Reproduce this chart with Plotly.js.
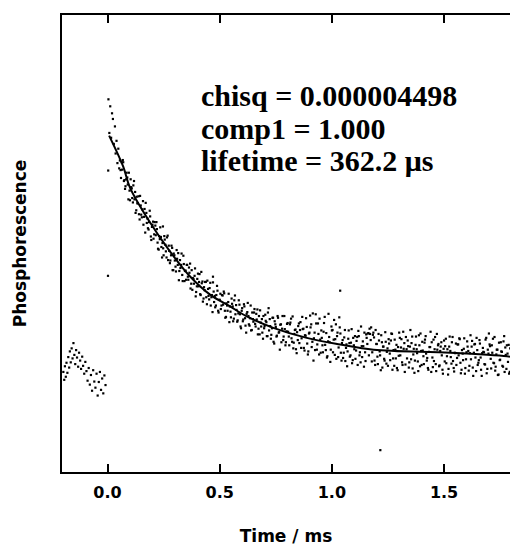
<!DOCTYPE html>
<html>
<head>
<meta charset="utf-8">
<script src="https://cdn.plot.ly/plotly-3.0.1.min.js"></script>
<style>html,body{margin:0;padding:0;background:#fff;}#chart{width:510px;height:546px;}</style>
</head>
<body>
<div id="chart"></div>
<script>
// ---- data (time in ms, phosphorescence in arbitrary units) ----
var tickVals = [0, 0.5, 1.0, 1.5];
var tickText = ["0.0", "0.5", "1.0", "1.5"];
var fitLabels = ["chisq = 0.000004498", "comp1 = 1.000", "lifetime = 362.2 \u03bcs"];

// pre-trigger baseline points
var tPre = [-0.197,-0.193,-0.190,-0.186,-0.183,-0.179,-0.175,-0.171,-0.168,-0.164,-0.160,-0.156,-0.152,-0.148,-0.144,-0.140,-0.136,-0.131,-0.127,-0.122,-0.118,-0.113,-0.109,-0.104,-0.099,-0.094,-0.089,-0.084,-0.079,-0.074,-0.069,-0.064,-0.059,-0.054,-0.049,-0.044,-0.039,-0.034,-0.029,-0.024,-0.019,-0.014,-0.009];
var yPre = [18.2,16.4,19.5,17.1,20.3,18.0,21.6,19.2,22.9,20.4,23.6,21.3,24.8,22.1,20.0,23.2,21.5,19.4,22.6,20.8,18.9,21.7,19.6,17.8,20.5,18.4,16.2,19.1,15.3,17.5,13.9,18.6,16.0,14.6,17.8,12.8,15.9,18.2,14.1,16.7,13.3,17.4,15.2];

// first points after the flash and isolated outliers
var tExtra = [0.002,0.003,0.004,0.008,0.012,0.016,0.020,0.024,0.028,0.033,0.036,0.040,0.044,0.048,0.052,0.247,0.470,1.037,1.216];
var yExtra = [40.2,64.3,80.6,72.9,79.0,71.8,77.4,76.1,70.4,74.4,68.2,71.1,66.0,69.3,64.8,51.5,40.0,36.8,0.3];

// decay points, first sweep
var tDecay = [
0.055,0.060,0.065,0.070,0.075,0.080,0.085,0.090,0.095,0.100,
0.105,0.110,0.115,0.120,0.125,0.130,0.135,0.140,0.145,0.150,
0.155,0.160,0.165,0.170,0.175,0.180,0.185,0.190,0.195,0.200,
0.205,0.210,0.215,0.220,0.225,0.230,0.235,0.240,0.245,0.250,
0.255,0.260,0.265,0.270,0.275,0.280,0.285,0.290,0.295,0.300,
0.305,0.310,0.315,0.320,0.325,0.330,0.335,0.340,0.345,0.350,
0.355,0.360,0.365,0.370,0.375,0.380,0.385,0.390,0.395,0.400,
0.405,0.410,0.415,0.420,0.425,0.430,0.435,0.440,0.445,0.450,
0.455,0.460,0.465,0.470,0.475,0.480,0.485,0.490,0.495,0.500,
0.505,0.510,0.515,0.520,0.525,0.530,0.535,0.540,0.545,0.550,
0.555,0.560,0.565,0.570,0.575,0.580,0.585,0.590,0.595,0.600,
0.605,0.610,0.615,0.620,0.625,0.630,0.635,0.640,0.645,0.650,
0.655,0.660,0.665,0.670,0.675,0.680,0.685,0.690,0.695,0.700,
0.705,0.710,0.715,0.720,0.725,0.730,0.735,0.740,0.745,0.750,
0.755,0.760,0.765,0.770,0.775,0.780,0.785,0.790,0.795,0.800,
0.805,0.810,0.815,0.820,0.825,0.830,0.835,0.840,0.845,0.850,
0.855,0.860,0.865,0.870,0.875,0.880,0.885,0.890,0.895,0.900,
0.905,0.910,0.915,0.920,0.925,0.930,0.935,0.940,0.945,0.950,
0.955,0.960,0.965,0.970,0.975,0.980,0.985,0.990,0.995,1.000,
1.005,1.010,1.015,1.020,1.025,1.030,1.035,1.040,1.045,1.050,
1.055,1.060,1.065,1.070,1.075,1.080,1.085,1.090,1.095,1.100,
1.105,1.110,1.115,1.120,1.125,1.130,1.135,1.140,1.145,1.150,
1.155,1.160,1.165,1.170,1.175,1.180,1.185,1.190,1.195,1.200,
1.205,1.210,1.215,1.220,1.225,1.230,1.235,1.240,1.245,1.250,
1.255,1.260,1.265,1.270,1.275,1.280,1.285,1.290,1.295,1.300,
1.305,1.310,1.315,1.320,1.325,1.330,1.335,1.340,1.345,1.350,
1.355,1.360,1.365,1.370,1.375,1.380,1.385,1.390,1.395,1.400,
1.405,1.410,1.415,1.420,1.425,1.430,1.435,1.440,1.445,1.450,
1.455,1.460,1.465,1.470,1.475,1.480,1.485,1.490,1.495,1.500,
1.505,1.510,1.515,1.520,1.525,1.530,1.535,1.540,1.545,1.550,
1.555,1.560,1.565,1.570,1.575,1.580,1.585,1.590,1.595,1.600,
1.605,1.610,1.615,1.620,1.625,1.630,1.635,1.640,1.645,1.650,
1.655,1.660,1.665,1.670,1.675,1.680,1.685,1.690,1.695,1.700,
1.705,1.710,1.715,1.720,1.725,1.730,1.735,1.740,1.745,1.750,
1.755,1.760,1.765,1.770,1.775,1.780,1.785,1.790,1.795];
var yDecay = [
66.6,62.6,64.5,66.2,62.1,60.7,63.8,61.1,63.8,57.5,
60.5,58.0,60.9,57.7,54.6,58.3,56.8,54.3,58.5,54.2,
55.4,51.9,55.5,56.9,52.3,51.1,52.5,53.8,48.4,51.9,
48.7,52.5,49.5,50.9,46.4,49.3,51.3,46.8,47.7,44.9,
48.5,45.8,49.0,43.8,45.9,43.7,47.1,41.5,45.3,43.7,
41.2,44.1,45.4,41.3,42.0,45.3,39.0,42.9,41.3,39.3,
42.7,39.3,40.9,37.3,41.5,39.7,38.4,41.9,36.5,39.5,
37.8,40.6,35.8,38.5,34.3,37.6,38.8,35.3,39.1,35.6,
37.4,33.4,35.8,38.7,34.2,33.0,35.8,36.8,31.8,34.7,
32.6,35.8,33.6,36.2,30.6,33.9,32.2,36.1,33.2,30.7,
33.8,29.8,34.6,31.4,32.4,30.0,34.6,31.4,28.2,32.8,
30.2,33.2,28.8,31.5,34.0,29.1,30.5,27.7,31.8,29.7,
32.6,28.6,30.2,26.8,31.0,32.3,28.6,27.2,31.0,28.7,
29.9,26.4,31.8,27.7,28.7,26.7,30.6,25.1,29.8,28.5,
26.5,30.6,27.3,29.0,25.0,31.0,26.3,28.0,25.0,29.2,
27.4,24.3,29.5,25.9,30.9,24.9,27.8,23.4,27.3,28.7,
24.8,29.6,25.9,28.0,23.7,26.6,30.5,24.7,22.9,27.2,
28.4,23.9,31.6,25.9,23.2,29.3,24.5,26.9,30.4,22.6,
26.0,22.7,29.4,24.4,27.1,21.8,31.5,25.0,23.3,27.7,
22.7,30.1,25.7,21.2,27.2,23.8,28.4,22.6,24.8,21.4,
26.1,20.7,24.5,22.9,27.7,21.7,24.9,20.2,26.0,23.4,
21.2,25.3,19.8,26.4,22.7,28.6,21.6,24.1,27.2,20.7,
26.0,27.0,22.0,26.9,28.4,22.7,27.2,20.8,27.8,24.6,
20.0,25.4,22.0,26.6,19.2,24.0,20.8,25.1,22.8,19.6,
24.7,20.9,27.0,18.7,23.2,25.6,21.3,19.1,23.9,27.2,
22.0,25.7,19.8,23.5,18.2,26.2,21.3,24.1,20.4,27.8,
24.8,19.0,23.5,20.8,26.3,22.5,18.4,24.3,27.0,19.8,
23.1,20.0,25.6,22.4,21.4,18.7,23.9,27.4,25.0,19.3,
20.7,26.2,18.4,23.3,24.6,19.7,24.0,22.0,17.8,25.4,
24.1,20.2,23.4,18.9,26.3,21.6,25.0,20.7,18.3,22.5,
19.8,24.5,22.0,25.7,17.9,23.2,20.9,25.9,19.1,22.7,
24.0,18.5,22.5,21.1,25.3,17.3,24.5,21.5,26.0,19.8,
20.9,24.7,18.7,22.5,22.8,20.0,25.6,17.9,23.3,27.0,
24.1,19.0,22.6,20.3,26.2,19.4,23.3,17.5,24.9,21.0,
22.9,19.6,25.2,18.2,22.1,24.3,20.5,17.8,23.6];

// decay points, interleaved second sweep
var tDecay2 = [
0.058,0.063,0.068,0.073,0.078,0.083,0.088,0.093,0.098,0.103,
0.108,0.113,0.118,0.123,0.128,0.133,0.138,0.143,0.148,0.153,
0.158,0.163,0.168,0.173,0.178,0.183,0.188,0.193,0.198,0.203,
0.208,0.213,0.218,0.223,0.228,0.233,0.238,0.243,0.248,0.253,
0.258,0.263,0.268,0.273,0.278,0.283,0.288,0.293,0.298,0.303,
0.308,0.313,0.318,0.323,0.328,0.333,0.338,0.343,0.348,0.353,
0.358,0.363,0.368,0.373,0.378,0.383,0.388,0.393,0.398,0.403,
0.408,0.413,0.418,0.423,0.428,0.433,0.438,0.443,0.448,0.453,
0.458,0.463,0.468,0.473,0.478,0.483,0.488,0.493,0.498,0.503,
0.508,0.513,0.518,0.523,0.528,0.533,0.538,0.543,0.548,0.553,
0.558,0.563,0.568,0.573,0.578,0.583,0.588,0.593,0.598,0.603,
0.608,0.613,0.618,0.623,0.628,0.633,0.638,0.643,0.648,0.653,
0.658,0.663,0.668,0.673,0.678,0.683,0.688,0.693,0.698,0.703,
0.708,0.713,0.718,0.723,0.728,0.733,0.738,0.743,0.748,0.753,
0.758,0.763,0.768,0.773,0.778,0.783,0.788,0.793,0.798,0.803,
0.808,0.813,0.818,0.823,0.828,0.833,0.838,0.843,0.848,0.853,
0.858,0.863,0.868,0.873,0.878,0.883,0.888,0.893,0.898,0.903,
0.908,0.913,0.918,0.923,0.928,0.933,0.938,0.943,0.948,0.953,
0.958,0.963,0.968,0.973,0.978,0.983,0.988,0.993,0.998,1.003,
1.008,1.013,1.018,1.023,1.028,1.033,1.038,1.043,1.048,1.053,
1.058,1.063,1.068,1.073,1.078,1.083,1.088,1.093,1.098,1.103,
1.108,1.113,1.118,1.123,1.128,1.133,1.138,1.143,1.148,1.153,
1.158,1.163,1.168,1.173,1.178,1.183,1.188,1.193,1.198,1.203,
1.208,1.213,1.218,1.223,1.228,1.233,1.238,1.243,1.248,1.253,
1.258,1.263,1.268,1.273,1.278,1.283,1.288,1.293,1.298,1.303,
1.308,1.313,1.318,1.323,1.328,1.333,1.338,1.343,1.348,1.353,
1.358,1.363,1.368,1.373,1.378,1.383,1.388,1.393,1.398,1.403,
1.408,1.413,1.418,1.423,1.428,1.433,1.438,1.443,1.448,1.453,
1.458,1.463,1.468,1.473,1.478,1.483,1.488,1.493,1.498,1.503,
1.508,1.513,1.518,1.523,1.528,1.533,1.538,1.543,1.548,1.553,
1.558,1.563,1.568,1.573,1.578,1.583,1.588,1.593,1.598,1.603,
1.608,1.613,1.618,1.623,1.628,1.633,1.638,1.643,1.648,1.653,
1.658,1.663,1.668,1.673,1.678,1.683,1.688,1.693,1.698,1.703,
1.708,1.713,1.718,1.723,1.728,1.733,1.738,1.743,1.748,1.753,
1.758,1.763,1.768,1.773,1.778,1.783,1.788,1.793];
var yDecay2 = [
64.4,66.2,66.7,61.9,60.1,62.3,62.7,57.7,59.7,62.3,
60.2,57.0,61.9,59.4,55.2,56.8,58.4,53.1,56.3,53.6,
57.3,53.7,50.1,54.6,53.3,50.8,55.1,49.2,51.4,52.6,
49.7,51.7,52.5,47.8,46.2,48.6,49.1,44.4,46.5,49.3,
47.3,44.4,49.4,47.1,43.1,44.9,46.6,41.5,44.9,42.3,
46.1,42.7,39.2,43.8,42.7,40.4,44.8,39.0,41.4,42.7,
40.0,42.1,43.0,38.4,37.0,39.5,40.2,35.5,37.8,40.7,
38.8,36.0,41.1,38.9,35.0,36.9,38.8,33.7,37.2,34.8,
38.6,35.3,31.9,36.6,35.6,33.4,37.9,32.2,34.7,36.1,
33.4,35.7,36.6,32.2,30.8,33.4,34.2,29.6,32.0,35.0,
33.2,30.4,35.7,33.5,29.7,31.6,33.6,28.6,32.2,29.8,
33.7,30.5,27.2,31.9,31.0,28.8,33.4,27.8,30.3,31.8,
29.2,31.5,32.5,28.1,26.8,29.5,30.3,25.8,28.2,31.3,
29.6,26.4,32.8,30.3,25.8,28.2,30.6,24.7,29.1,26.3,
31.0,27.2,23.3,29.1,28.1,25.5,31.0,24.3,27.5,29.4,
26.3,29.1,30.4,25.1,23.6,26.9,27.9,22.5,25.5,29.3,
27.8,23.7,30.8,28.1,23.1,26.5,28.5,22.2,27.0,31.1,
29.1,25.1,20.8,27.2,31.4,23.3,29.3,22.2,25.6,27.7,
24.3,27.4,30.8,23.2,21.5,25.2,26.2,20.5,28.6,27.8,
25.6,22.1,29.1,26.4,21.6,30.7,27.0,20.8,25.5,22.6,
27.8,23.7,19.5,25.8,24.8,22.0,28.0,20.9,24.3,26.4,
23.1,26.2,27.6,22.0,20.4,24.1,25.2,19.4,22.7,26.8,
24.6,27.1,28.1,25.5,20.6,26.7,26.1,19.8,24.6,21.7,
26.9,22.9,18.6,25.0,24.0,21.2,27.3,20.1,23.6,25.7,
22.4,25.4,26.9,21.3,19.6,23.3,24.4,18.6,21.9,26.0,
23.8,20.4,27.4,24.8,19.9,23.4,25.4,19.2,24.0,21.1,
26.3,22.2,18.0,24.4,23.4,20.6,26.6,19.5,23.0,25.1,
21.8,24.9,26.4,20.8,19.1,22.8,23.9,18.2,21.5,25.6,
23.4,20.0,26.9,24.3,19.5,23.0,25.0,18.7,23.5,20.6,
25.8,21.8,17.6,24.0,23.0,20.1,26.2,19.1,22.6,24.7,
21.4,24.5,25.9,20.3,18.7,22.4,23.5,17.8,21.1,25.2,
23.0,19.6,26.6,24.0,19.2,22.6,24.6,18.4,23.2,20.3,
25.5,21.5,17.3,23.7,22.7,19.9,26.0,18.9,22.4,24.5,
21.2,24.3,25.8,20.2,18.5,22.2,23.3,17.6,20.9,25.0,
22.8,19.4,26.4,23.8,18.9,22.4,24.4,18.2];

// single-exponential fit curve
var tFit = [0.007,0.070,0.100,0.181,0.278,0.367,0.457,0.546,0.621,0.739,0.888,1.037,1.186,1.528,1.781,1.794];
var yFit = [72.3,65.2,60.4,53.1,45.8,40.1,35.9,33.2,30.9,28.3,26.0,24.5,23.3,22.6,21.8,21.7];

// ---- chart ----
var tickFont = {family: "DejaVu Sans, Arial, sans-serif", size: 16, color: "#000", weight: 700};
var titleFont = {family: "DejaVu Sans, Arial, sans-serif", size: 17, color: "#000", weight: 700};
var dotStyle = {color: "#000", size: 2.2, symbol: "square"};

var traces = [
  {x: tPre, y: yPre, type: "scatter", mode: "markers", marker: dotStyle, hoverinfo: "skip"},
  {x: tExtra, y: yExtra, type: "scatter", mode: "markers", marker: dotStyle, hoverinfo: "skip"},
  {x: tDecay, y: yDecay, type: "scatter", mode: "markers", marker: dotStyle, hoverinfo: "skip"},
  {x: tDecay2, y: yDecay2, type: "scatter", mode: "markers", marker: dotStyle, hoverinfo: "skip"},
  {x: tFit, y: yFit, type: "scatter", mode: "lines", line: {color: "#000", width: 2, shape: "spline", smoothing: 1}, hoverinfo: "skip"}
];

var annY = [0.824, 0.752, 0.682];
var annotations = fitLabels.map(function (s, i) {
  return {text: s, xref: "paper", yref: "paper", x: 0.305, y: annY[i], xanchor: "left", yanchor: "middle",
          showarrow: false, font: {family: "Liberation Serif, Times New Roman, serif", size: 30, color: "#000", weight: 700}};
});

var layout = {
  width: 510, height: 546,
  margin: {l: 62, r: 0, t: 15, b: 74, pad: 0},
  paper_bgcolor: "#fff", plot_bgcolor: "#fff",
  showlegend: false,
  xaxis: {
    range: [-0.203, 1.794], showgrid: false, zeroline: false,
    showline: true, linecolor: "#000", linewidth: 2, mirror: "ticks",
    ticks: "inside", ticklen: 8, tickwidth: 2, tickcolor: "#000",
    tickvals: tickVals, ticktext: tickText, tickfont: tickFont, ticklabelstandoff: 5,
    title: {text: "Time / ms", font: titleFont, standoff: 33}
  },
  yaxis: {
    range: [-4.7, 99.9], showgrid: false, zeroline: false,
    showline: true, linecolor: "#000", linewidth: 2,
    ticks: "", showticklabels: false,
    title: {text: "Phosphorescence", font: titleFont, standoff: 29}
  },
  annotations: annotations
};

Plotly.newPlot("chart", traces, layout, {displayModeBar: false, staticPlot: true});
</script>
</body>
</html>
